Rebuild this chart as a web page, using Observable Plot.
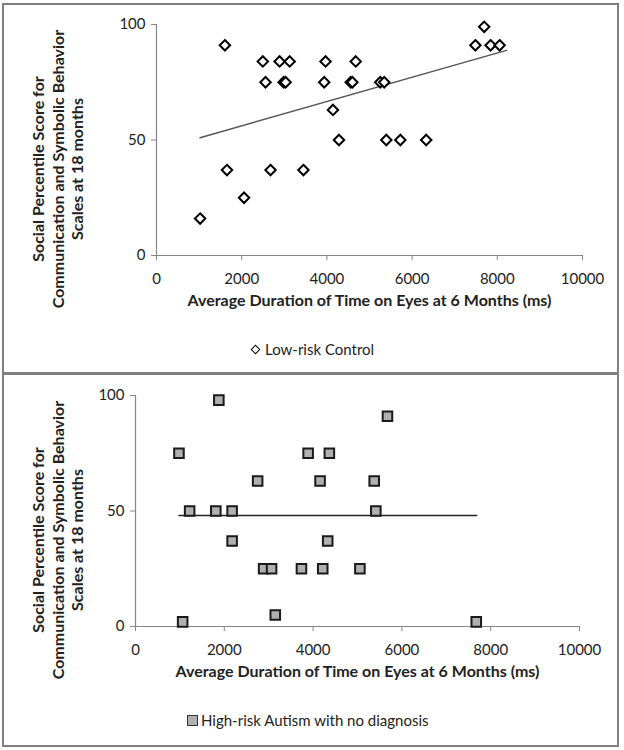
<!DOCTYPE html>
<html>
<head>
<meta charset="utf-8">
<script src="https://cdn.jsdelivr.net/npm/d3@7"></script>
<script src="https://cdn.jsdelivr.net/npm/@observablehq/plot@0.6"></script>
<style>
  html, body { margin: 0; padding: 0; background: #fff; }
  #wrap { position: relative; width: 624px; height: 750px; overflow: hidden; font-family: Lato, sans-serif; }
  .frame { position: absolute; left: 2px; top: 3px; width: 613px; height: 740px; border: 2px solid #808080; }
  .sep { position: absolute; left: 2px; top: 372px; width: 617px; height: 3px; background: #808080; }
  .panel { position: absolute; left: 0; }
  .legend { position: absolute; display: flex; align-items: center; font-size: 15px; color: #222; height: 18px; white-space: nowrap; }
  .diamond { display: inline-block; width: 7px; height: 7px; box-sizing: border-box; border: 1.5px solid #000; transform: rotate(45deg); margin-right: 6px; }
  .square { display: inline-block; width: 11px; height: 11px; box-sizing: border-box; border: 1.5px solid #333; background: #b0b0b0; margin-right: 3px; }
</style>
</head>
<body>
<div id="wrap">
  <div class="frame"></div>
  <div class="sep"></div>
  <div id="p1" class="panel" style="top:0px"></div>
  <div id="p2" class="panel" style="top:370px"></div>
  <div class="legend" style="left:252px; top:340px;"><span class="diamond"></span>Low-risk Control</div>
  <div class="legend" style="left:187px; top:711px;"><span class="square"></span>High-risk Autism with no diagnosis</div>
</div>
<script>
// Low-risk Control: average duration on eyes at 6 months (ms) and social percentile score
const lowX = [1024,1606,1654,2055,2496,2559,2677,2890,2984,3031,3126,3449,3937,3968,4142,4283,4559,4598,4677,5252,5346,5394,5724,6331,7486,7692,7842,8055];
const lowY = [16,91,37,25,84,75,37,84,75,75,84,37,75,84,63,50,75,75,84,75,75,50,50,50,91,99,91,91];
// Low-risk trend line (endpoints)
const lowTrendX = [1024, 8216];
const lowTrendY = [51, 88.8];

// High-risk Autism with no diagnosis
const highX = [979,1062,1219,1809,1877,2176,2176,2751,2886,3065,3148,3738,3888,4157,4217,4329,4366,5054,5376,5413,5675,7675];
const highY = [75,2,50,50,98,50,37,63,25,25,5,25,75,63,25,37,75,25,63,50,91,2];
// High-risk trend line (endpoints)
const highTrendX = [979, 7683];
const highTrendY = [48, 48];

const xTicks = [0,2000,4000,6000,8000,10000];
const yTicks = [0,50,100];
const xTitle = "Average Duration of Time on Eyes at 6 Months (ms)";
const yTitle = "Social Percentile Score for\nCommunication and Symbolic Behavior\nScales at 18 months";

const lowData = lowX.map((x, i) => ({x, y: lowY[i]}));
const highData = highX.map((x, i) => ({x, y: highY[i]}));
const lowTrend = lowTrendX.map((x, i) => ({x, y: lowTrendY[i]}));
const highTrend = highTrendX.map((x, i) => ({x, y: highTrendY[i]}));

function makePlot(data, trend, opts) {
  const dotMark = opts.kind === "diamond"
    ? Plot.dot(data, {x: "x", y: "y", symbol: "diamond2", r: 4.7, stroke: "#000", strokeWidth: 2, fill: "#fff"})
    : Plot.dot(data, {x: "x", y: "y", symbol: "square", r: 5.4, stroke: "#1a1a1a", strokeWidth: 2, fill: "#b0b0b0"});
  return Plot.plot({
    width: 624,
    height: 330,
    marginLeft: opts.left,
    marginRight: opts.right,
    marginTop: opts.top,
    marginBottom: opts.bottom,
    style: {fontFamily: "Lato, sans-serif", fontSize: "15px", color: "#222", background: "transparent", overflow: "visible"},
    x: {domain: [0, 10000]},
    y: {domain: [0, 100]},
    marks: [
      Plot.ruleY([0], {stroke: "#868686", strokeWidth: 1.2}),
      Plot.ruleX([0], {stroke: "#868686", strokeWidth: 1.2}),
      Plot.axisX({ticks: xTicks, tickFormat: d => String(d), tickSize: 5, tickPadding: 13, stroke: "#868686", fill: "#222", label: null, fontSize: 15}),
      Plot.axisY({ticks: yTicks, tickFormat: d => String(d), tickSize: 5, tickPadding: 6, stroke: "#868686", fill: "#222", label: null, fontSize: 15}),
      Plot.line(trend, {x: "x", y: "y", stroke: opts.lineColor, strokeWidth: 1.5}),
      dotMark,
      Plot.text([xTitle], {frameAnchor: "bottom", dy: 50, fontWeight: "bold", fontSize: 16, fill: "#222"}),
      Plot.text([yTitle], {frameAnchor: "left", textAnchor: "middle", lineAnchor: "middle", rotate: -90, dx: opts.ydx, dy: opts.ydy, lineHeight: 1.2, fontWeight: "bold", fontSize: 16, fill: "#222"})
    ]
  });
}

document.getElementById("p1").appendChild(makePlot(lowData, lowTrend, {kind: "diamond", left: 156, right: 42, top: 24, bottom: 75, lineColor: "#555", ydx: -99, ydy: 29}));
document.getElementById("p2").appendChild(makePlot(highData, highTrend, {kind: "square", left: 135, right: 45, top: 25, bottom: 74, lineColor: "#222", ydx: -78, ydy: 29}));
</script>
</body>
</html>
